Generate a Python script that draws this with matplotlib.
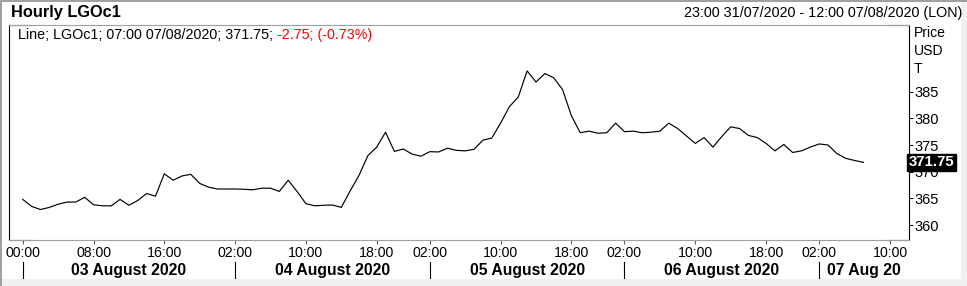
import matplotlib
matplotlib.use("Agg")
import matplotlib.pyplot as plt
import matplotlib.transforms as mtransforms
from matplotlib.patches import Rectangle
from matplotlib.lines import Line2D

plt.rcParams['font.family'] = ['Liberation Sans', 'DejaVu Sans']

# hourly closes, LGOc1, one value per trading hour (03/08 00:00 .. 07/08 07:00)
prices = [
    364.8, 363.5, 362.9, 363.3, 363.9, 364.3, 364.3, 365.2, 363.8, 363.6,
    363.6, 364.8, 363.7, 364.6, 365.9, 365.4, 369.6, 368.4, 369.2, 369.5,
    367.8, 367.1, 366.75, 366.75, 366.75, 366.7, 366.6, 366.9, 366.9, 366.3,
    368.4, 366.3, 364.0, 363.6, 363.7, 363.75, 363.3, 366.4, 369.3, 373.0,
    374.6, 377.4, 373.8, 374.25, 373.3, 372.9, 373.75, 373.7, 374.4, 374.0,
    373.9, 374.2, 375.9, 376.3, 379.1, 382.2, 384.0, 388.9, 386.8, 388.4,
    387.6, 385.4, 380.5, 377.3, 377.6, 377.2, 377.3, 379.1, 377.5, 377.6,
    377.3, 377.4, 377.6, 379.1, 378.1, 376.7, 375.3, 376.4, 374.6, 376.6,
    378.4, 378.1, 376.8, 376.4, 375.3, 373.9, 375.1, 373.6, 373.9, 374.6,
    375.2, 375.0, 373.4, 372.5, 372.1, 371.75,
]

# bar index of each time tick and its label
hour_ticks = [0, 8, 16, 24, 32, 40, 46, 54, 62, 68, 76, 84, 90, 98]
hour_labels = ["00:00", "08:00", "16:00", "02:00", "10:00", "18:00", "02:00",
               "10:00", "18:00", "02:00", "10:00", "18:00", "02:00", "10:00"]
day_starts = [0, 24, 46, 68, 90]
day_labels = ["03 August 2020", "04 August 2020", "05 August 2020",
              "06 August 2020", "07 Aug 20"]
price_ticks = [360, 365, 370, 375, 380, 385]
last_price = 371.75

W, H = 967, 286
fig = plt.figure(figsize=(W / 100, H / 100), dpi=100)
fig.patch.set_facecolor("white")

# axes box in pixels
L, R, T, B = 9, 909, 25, 240
ax = fig.add_axes([L / W, 1 - B / H, (R - L) / W, (B - T) / H])
xmax = 100.15
ax.set_xlim(-1.55, xmax)
ax.set_ylim(357.19, 397.5)

ax.plot(range(len(prices)), prices, color="black", lw=0.85)

# spines: grey top/bottom, black sides
for s in ["top", "bottom"]:
    ax.spines[s].set_color("#a0a0a0")
    ax.spines[s].set_linewidth(0.8)
for s in ["left", "right"]:
    ax.spines[s].set_color("black")
    ax.spines[s].set_linewidth(0.8)
# black corner stubs
for (x0, x1, y) in [(0, 0.024, 1), (0, 0.024, 0), (0.976, 1, 1), (0.976, 1, 0)]:
    ax.add_line(Line2D([x0, x1], [y, y], transform=ax.transAxes, color="black",
                       lw=0.8, clip_on=False))

# x ticks
ax.set_xticks(hour_ticks)
ax.set_xticklabels(hour_labels, fontsize=10.2)
ax.tick_params(axis="x", direction="out", length=3, width=0.7, color="#555555", pad=1.0)

# y ticks on the right
ax.yaxis.tick_right()
ax.set_yticks(price_ticks)
ax.set_yticklabels([str(p) for p in price_ticks], fontsize=10.5)
ax.tick_params(axis="y", direction="out", length=3, width=0.7, color="black", pad=1)

# day labels and separators below
xt = ax.get_xaxis_transform()
bounds = day_starts + [xmax]
for i, name in enumerate(day_labels):
    ax.add_line(Line2D([day_starts[i], day_starts[i]], [-0.102, -0.175], transform=xt,
                       color="black", lw=0.8, clip_on=False))
    ax.text((bounds[i] + bounds[i + 1]) / 2, -0.14, name, transform=xt, ha="center",
            va="center", fontsize=11.3, fontweight="bold")

# last price box
bt = mtransforms.blended_transform_factory(ax.transAxes, ax.transData)
ax.text(1.0, last_price, "371.75", transform=bt, ha="left", va="center",
        fontsize=10.8, fontweight="bold", color="white",
        bbox=dict(boxstyle="square,pad=0.12", fc="black", ec="black"))

# header texts
fig.text(11 / W, 1 - 13 / H, "Hourly LGOc1", fontsize=11.8, fontweight="bold",
         ha="left", va="center")
fig.text(962 / W, 1 - 13 / H, "23:00 31/07/2020 - 12:00 07/08/2020 (LON)",
         fontsize=10.4, ha="right", va="center")
t1 = fig.text(18 / W, 1 - 35 / H, "Line; LGOc1; 07:00 07/08/2020; 371.75; ",
              fontsize=10.3, ha="left", va="center")
fig.canvas.draw()
bb = t1.get_window_extent()
fig.text(bb.x1 / W, 1 - 35 / H, "-2.75; (-0.73%)", fontsize=10.3, color="#ff0000",
         ha="left", va="center")

for i, s in enumerate(["Price", "USD", "T"]):
    fig.text(914 / W, 1 - (33 + 18 * i) / H, s, fontsize=10.1, ha="left", va="center")

# outer window frame
fig.add_artist(Rectangle((0, 0), 2 / W, 1, transform=fig.transFigure, fc="#a0a0a0", ec="none"))
fig.add_artist(Rectangle((0, 1 - 1.5 / H), 1, 1.5 / H, transform=fig.transFigure,
                         fc="#a0a0a0", ec="none"))
fig.add_artist(Rectangle((2 / W, 0), 1, 7 / H, transform=fig.transFigure,
                         fc="#f0f0f0", ec="none"))
fig.add_artist(Rectangle((961 / W, 0), 6 / W, 1 - 1.5 / H, transform=fig.transFigure,
                         fc="#f0f0f0", ec="none"))

fig.savefig("out.png", dpi=100)
